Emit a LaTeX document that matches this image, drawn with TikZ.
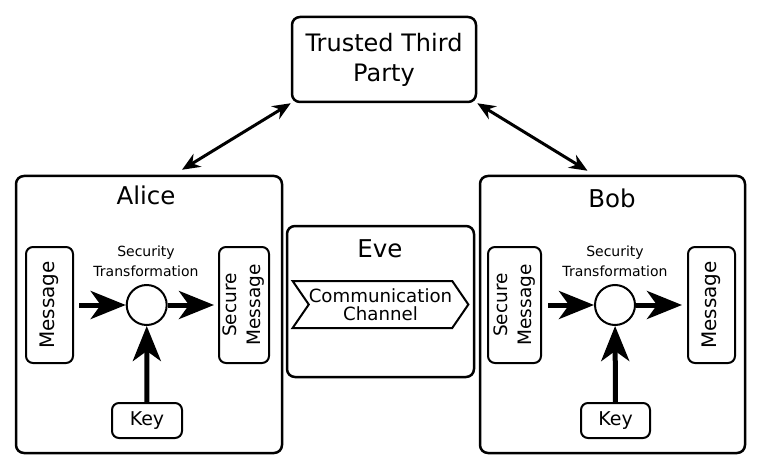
\documentclass[tikz,border=0pt]{standalone}
\usepackage{fontspec}
\setmainfont{DejaVu Sans}
\usetikzlibrary{calc,arrows.meta,shapes.symbols}
\newcommand\fsz[2]{\fontsize{#1}{#2}\selectfont}

\begin{document}
\begin{tikzpicture}[x=1pt, y=-1pt,
		party/.style={draw, line width=2.5pt, rounded corners=8pt, inner sep=0pt},
		item/.style={draw, line width=2pt, rounded corners=7pt, inner sep=0pt, align=center},
		transf/.style={draw, circle, line width=2pt, minimum size=40pt, inner sep=0pt},
		flow/.style={line width=5pt, -{Stealth[length=35pt, width=28pt, inset=10pt]}},
		link/.style={line width=3pt, {Stealth[length=18pt, width=15pt]}-{Stealth[length=18pt, width=15pt]}}]
			%%%%% START %%%%%
			\useasboundingbox (0, 0) rectangle (757, 465);
			
			\node[party, minimum width=184pt, minimum height=85pt, align=center, font=\fsz{24}{30}] (ttp) at (384, 59.5) {Trusted Third\\Party};
			
			\node[party, minimum width=266pt, minimum height=277pt] (alice) at (149, 314.5) {};
			\node[font=\fsz{24.5}{26}] (alicelbl) at (146, 195) {Alice};
			
			\node[party, minimum width=187pt, minimum height=151pt] (eve) at (380.5, 301.5) {};
			\node[font=\fsz{24.5}{26}] (evelbl) at (380, 249) {Eve};
			
			\node[party, minimum width=265pt, minimum height=277pt] (bob) at (612.5, 314.5) {};
			\node[font=\fsz{24.5}{26}] (boblbl) at (612, 198) {Bob};
			
			\draw[link] (ttp.south west) -- ($(alice.north)+(33, -5)$);
			\draw[link] (ttp.south east) -- ($(bob.north)+(-25, -4)$);
			
			% alice
			\node[item, rotate=90, minimum width=116pt, minimum height=47pt, font=\fsz{20}{22}] (amsg) at (49.5, 305) {Message};
			\node[item, rotate=90, minimum width=116pt, minimum height=50pt, font=\fsz{18.5}{24}] (asec) at (244, 305) {Secure\\Message};
			\node[transf] (atr) at (146.7, 305) {};
			\node[align=center, font=\fsz{14}{20}] (atrlbl) at (146, 261) {Security\\Transformation};
			\node[item, minimum width=70pt, minimum height=35pt, font=\fsz{19}{20}] (akey) at (147, 420.5) {Key};
			
			\draw[flow, shorten <=5pt] (amsg) -- (atr);
			\draw[flow, shorten >=4pt] (atr) -- (asec);
			\draw[flow] (akey) -- (atr);
			
			% eve
			\node[draw, line width=2pt, signal, signal from=west, signal to=east, signal pointer angle=111, minimum width=168pt, minimum height=47pt, inner sep=0pt, align=center, font=\fsz{18.2}{17.5}] (chan) at (380.5, 304.5) {Communication\\Channel};
			
			% bob
			\node[item, rotate=90, minimum width=116pt, minimum height=53pt, font=\fsz{18.5}{24}] (bsec) at (514.5, 305) {Secure\\Message};
			\node[transf] (btr) at (615, 305) {};
			\node[align=center, font=\fsz{14}{20}] (btrlbl) at (615, 261) {Security\\Transformation};
			\node[item, rotate=90, minimum width=116pt, minimum height=47pt, font=\fsz{20}{22}] (bmsg) at (711.5, 305) {Message};
			\node[item, minimum width=69pt, minimum height=35pt, font=\fsz{19}{20}] (bkey) at (615.5, 420.5) {Key};
			
			\draw[flow, shorten <=6pt] (bsec) -- (btr);
			\draw[flow, shorten >=5pt] (btr) -- (bmsg);
			\draw[flow] (bkey) -- (btr);
			%%%%% END %%%%%
\end{tikzpicture}
\end{document}
